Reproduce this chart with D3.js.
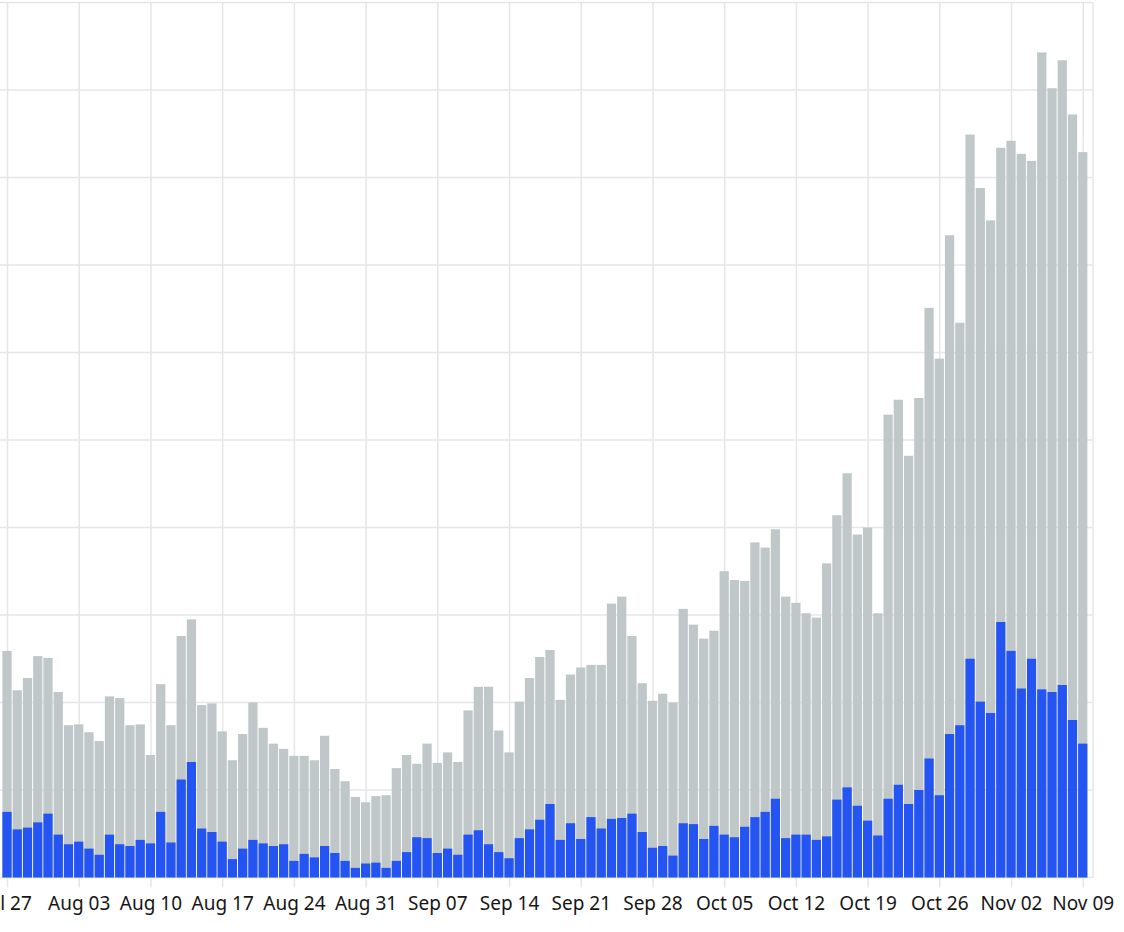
<!DOCTYPE html>
<html>
<head>
<meta charset="utf-8">
<script src="https://cdn.jsdelivr.net/npm/d3@7"></script>
<style>
  html, body { margin: 0; padding: 0; background: #ffffff; }
  svg { display: block; }
</style>
</head>
<body>
<svg id="chart" width="1124" height="932"></svg>
<script>
// ---- data (daily values, Jul 27 .. Nov 09) ----
const firstDay = "2020-07-27";
const lastDay = "2020-11-09";

const totalValues = [
  259, 214, 228, 253, 251, 212, 174, 175, 166, 156,
  207, 205, 174, 175, 140, 221, 174, 276, 295, 197,
  199, 167, 134, 164, 200, 171, 153, 147, 139, 139,
  134, 162, 124, 110, 92, 86, 93, 94, 125, 140,
  130, 153, 131, 143, 132, 191, 218, 218, 168, 143,
  201, 228, 252, 260, 203, 232, 240, 243, 243, 313,
  321, 276, 222, 202, 210, 200, 307, 289, 273, 282,
  350, 340, 339, 383, 377, 398, 321, 314, 302, 297,
  359, 414, 462, 392, 400, 302, 529, 546, 482, 548,
  651, 593, 734, 634, 849, 788, 751, 834, 842, 827,
  819, 943, 902, 934, 872, 829
];

const subsetValues = [
  75, 55, 57, 63, 73, 49, 38, 41, 33, 26,
  49, 38, 36, 43, 39, 75, 40, 112, 132, 56,
  52, 41, 21, 33, 43, 39, 36, 38, 19, 27,
  23, 36, 28, 19, 11, 16, 17, 11, 19, 29,
  46, 45, 28, 33, 26, 49, 54, 38, 29, 22,
  45, 55, 66, 84, 43, 62, 44, 69, 56, 67,
  68, 73, 52, 34, 36, 25, 62, 61, 44, 59,
  49, 46, 58, 69, 75, 90, 45, 49, 49, 43,
  47, 89, 103, 82, 65, 48, 90, 106, 84, 100,
  136, 94, 164, 174, 250, 201, 188, 292, 259, 216,
  250, 215, 212, 220, 180, 153
];

const tickLabels = [
  "Jul 27", "Aug 03", "Aug 10", "Aug 17", "Aug 24", "Aug 31", "Sep 07",
  "Sep 14", "Sep 21", "Sep 28", "Oct 05", "Oct 12", "Oct 19", "Oct 26",
  "Nov 02", "Nov 09"
];

const yGridValues = [0, 100, 200, 300, 400, 500, 600, 700, 800, 900, 1000];

// ---- build ----
const parseDay = d3.utcParse("%Y-%m-%d");
const days = d3.utcDay.range(parseDay(firstDay), d3.utcDay.offset(parseDay(lastDay), 1));
const rows = days.map((d, i) => ({ date: d, total: totalValues[i], subset: subsetValues[i] }));
const parseTick = d3.utcParse("%Y %b %d");
const tickDates = tickLabels.map(t => parseTick("2020 " + t));

const svg = d3.select("#chart");
const plotRight = 1093;
const plotTop = 2.5;
const plotBottom = 877.5;

const halfDay = 12 * 3600 * 1000;
const x = d3.scaleUtc()
  .domain([new Date(days[0].getTime() - halfDay), d3.utcDay.offset(days[days.length - 1], 1)])
  .range([1.9, plotRight]);

const y = d3.scaleLinear().domain([0, 1000]).range([plotBottom, plotTop]);

const gridColor = "#e6e6ea";

// horizontal grid
svg.append("g")
  .selectAll("line")
  .data(yGridValues)
  .join("line")
  .attr("x1", 0).attr("x2", plotRight)
  .attr("y1", d => y(d)).attr("y2", d => y(d))
  .attr("stroke", gridColor).attr("stroke-width", 1.5);

// vertical grid + ticks via axis
const xAxis = d3.axisBottom(x)
  .tickValues(tickDates)
  .tickFormat((d, i) => tickLabels[i])
  .tickSize(plotBottom - plotTop + 10)
  .tickPadding(9);

const axisG = svg.append("g")
  .attr("transform", `translate(0,${plotTop})`)
  .call(xAxis);
axisG.select(".domain").remove();
axisG.selectAll(".tick line").attr("stroke", gridColor).attr("stroke-width", 1.5);
axisG.selectAll(".tick text")
  .attr("fill", "#161616")
  .attr("font-family", "'Noto Sans', 'Open Sans', sans-serif")
  .attr("font-size", 19)
  .attr("dy", "0.71em");

// right border
svg.append("line")
  .attr("x1", plotRight).attr("x2", plotRight)
  .attr("y1", plotTop).attr("y2", plotBottom)
  .attr("stroke", gridColor).attr("stroke-width", 1.5);

const barX = d => x(new Date(d.date.getTime() - halfDay));
const barW = d => x(new Date(d.date.getTime() + halfDay)) - x(new Date(d.date.getTime() - halfDay)) - 1;

// grey totals
svg.append("g")
  .selectAll("rect")
  .data(rows)
  .join("rect")
  .attr("x", d => barX(d) + 0.5)
  .attr("width", barW)
  .attr("y", d => y(d.total))
  .attr("height", d => y(0) - y(d.total))
  .attr("fill", "#bfc7c9");

// blue subset
svg.append("g")
  .selectAll("rect")
  .data(rows)
  .join("rect")
  .attr("x", d => barX(d) + 0.5)
  .attr("width", barW)
  .attr("y", d => y(d.subset))
  .attr("height", d => y(0) - y(d.subset))
  .attr("fill", "#2454f2");
</script>
</body>
</html>
